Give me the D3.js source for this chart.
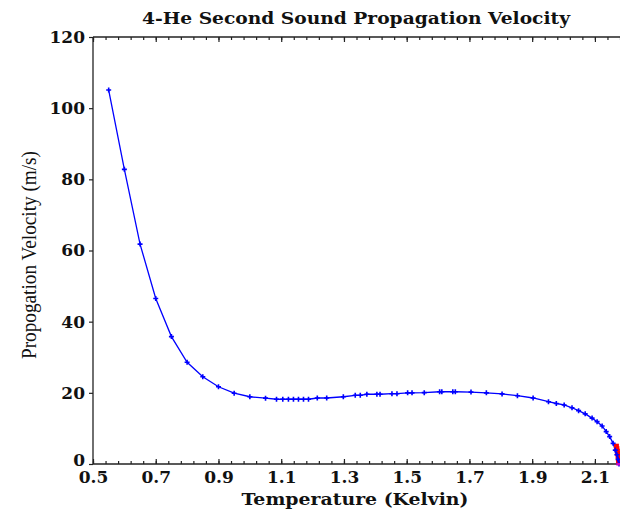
<!DOCTYPE html>
<html>
<head>
<meta charset="utf-8">
<script src="https://cdn.jsdelivr.net/npm/d3@7"></script>
<style>
  body { margin: 0; background: #fff; }
  svg { display: block; }
</style>
</head>
<body>
<svg id="chart" width="620" height="510"></svg>
<script>
// second sound velocity readings (blue series)
const temps = [0.55, 0.60, 0.65, 0.70, 0.75, 0.80, 0.85, 0.90, 0.95, 1.00, 1.05,
  1.085, 1.105, 1.123, 1.139, 1.155, 1.171, 1.187, 1.215, 1.245, 1.298, 1.336, 1.352,
  1.373, 1.405, 1.415, 1.453, 1.469, 1.503, 1.517, 1.556, 1.605, 1.612, 1.647, 1.655,
  1.705, 1.754, 1.804, 1.853, 1.903, 1.952, 1.977, 2.002, 2.027, 2.048, 2.069, 2.091,
  2.107, 2.123, 2.136, 2.147, 2.158, 2.165, 2.170, 2.174, 2.1768];
const velocity = [105.1, 82.8, 61.8, 46.5, 35.8, 28.6, 24.5, 21.7, 19.9, 18.9, 18.5,
  18.2, 18.2, 18.2, 18.2, 18.2, 18.2, 18.2, 18.55, 18.55, 18.9, 19.3, 19.3,
  19.6, 19.6, 19.6, 19.75, 19.75, 20.0, 20.0, 20.05, 20.3, 20.3, 20.3, 20.3,
  20.2, 20.0, 19.7, 19.2, 18.55, 17.5, 17.0, 16.6, 15.8, 15.0, 14.1, 12.9,
  11.9, 10.7, 9.1, 7.7, 5.8, 3.9, 2.6, 1.3, 0];

// points right at the lambda point (red series)
const lambdaTemps = [2.1685, 2.170, 2.1715, 2.173, 2.174, 2.175, 2.1757, 2.1763];
const lambdaVelocity = [5.0, 4.3, 3.6, 2.9, 2.2, 1.5, 0.9, 0.4];

// final point (magenta)
const endTemps = [2.1765];
const endVelocity = [0];

const xTicks = [0.5, 0.7, 0.9, 1.1, 1.3, 1.5, 1.7, 1.9, 2.1];
const yTicks = [0, 20, 40, 60, 80, 100, 120];

const margin = {top: 37, right: 1, bottom: 46, left: 93};
const width = 620, height = 510;

const svg = d3.select('#chart');

const x = d3.scaleLinear()
  .domain([0.5, 2.1768])
  .range([margin.left, width - margin.right]);

const y = d3.scaleLinear()
  .domain([0, 120])
  .range([height - margin.bottom, margin.top]);

const minorX = d3.range(0.5, 2.19, 0.04);
const tickFont = 'DejaVu Serif, serif';

// bottom axis, minor ticks point into the plot
svg.append('g')
  .attr('transform', `translate(0,${y(0)})`)
  .call(d3.axisBottom(x).tickValues(minorX).tickSize(-3).tickFormat(''))
  .call(g => g.select('.domain').remove());

svg.append('g')
  .attr('transform', `translate(0,${y(0)})`)
  .call(d3.axisBottom(x).tickValues(xTicks).tickSize(-5).tickPadding(7).tickFormat(d3.format('.1f')))
  .call(g => g.select('.domain').remove())
  .call(g => g.selectAll('text')
    .attr('font-family', tickFont)
    .attr('font-weight', 'bold')
    .attr('font-size', 17)
    .attr('fill', '#111'));

// top axis, ticks only
svg.append('g')
  .attr('transform', `translate(0,${y(120)})`)
  .call(d3.axisTop(x).tickValues(minorX).tickSize(-3).tickFormat(''))
  .call(g => g.select('.domain').remove());

svg.append('g')
  .attr('transform', `translate(0,${y(120)})`)
  .call(d3.axisTop(x).tickValues(xTicks).tickSize(-5).tickFormat(''))
  .call(g => g.select('.domain').remove());

// left axis
svg.append('g')
  .attr('transform', `translate(${x(0.5)},0)`)
  .call(d3.axisLeft(y).tickValues(yTicks).tickSize(4).tickPadding(4))
  .call(g => g.select('.domain').remove())
  .call(g => g.selectAll('text')
    .attr('font-family', tickFont)
    .attr('font-weight', 'bold')
    .attr('font-size', 17)
    .attr('fill', '#111')
    .attr('dy', d => d === 0 ? '0.1em' : '0.32em'));

svg.selectAll('.tick line').attr('stroke', '#222').attr('stroke-width', 1.2);

// frame lines (no right side)
const frame = svg.append('g').attr('stroke', '#222').attr('stroke-width', 1.3);
frame.append('line')
  .attr('x1', x(0.5)).attr('x2', x(0.5))
  .attr('y1', y(120)).attr('y2', y(0));
frame.append('line')
  .attr('x1', x(0.5)).attr('x2', width)
  .attr('y1', y(0)).attr('y2', y(0));
frame.append('line')
  .attr('x1', x(0.5)).attr('x2', width)
  .attr('y1', y(120)).attr('y2', y(120));

// velocity curve
const points = temps.map((t, i) => ({t: t, v: velocity[i]}));
const line = d3.line().x(d => x(d.t)).y(d => y(d.v));

svg.append('path')
  .datum(points)
  .attr('fill', 'none')
  .attr('stroke', '#0000ff')
  .attr('stroke-width', 1.3)
  .attr('d', line);

// lambda point markers in red
const lambdaPoints = lambdaTemps.map((t, i) => ({t: t, v: lambdaVelocity[i]}));
svg.append('g')
  .selectAll('rect')
  .data(lambdaPoints)
  .join('rect')
  .attr('x', d => x(d.t) - 2.5)
  .attr('y', d => y(d.v) - 2.5)
  .attr('width', 5)
  .attr('height', 5)
  .attr('fill', '#ff0000');

// blue cross markers on the measured points
svg.append('g')
  .selectAll('path')
  .data(points)
  .join('path')
  .attr('d', d => {
    const cx = x(d.t), cy = y(d.v);
    return `M${cx - 2.5},${cy}H${cx + 2.5}M${cx},${cy - 2.5}V${cy + 2.5}`;
  })
  .attr('stroke', '#0000ff')
  .attr('stroke-width', 1.6);

// the blue line runs down over the red markers
svg.append('path')
  .datum(points.slice(-4))
  .attr('fill', 'none')
  .attr('stroke', '#0000ff')
  .attr('stroke-width', 2)
  .attr('d', line);

const endPoints = endTemps.map((t, i) => ({t: t, v: endVelocity[i]}));
svg.append('g')
  .selectAll('rect')
  .data(endPoints)
  .join('rect')
  .attr('x', d => x(d.t) - 2.5)
  .attr('y', d => y(d.v) - 1)
  .attr('width', 5)
  .attr('height', 2.5)
  .attr('fill', '#cc00cc');

// title and axis labels
svg.append('text')
  .attr('x', 356)
  .attr('y', 24)
  .attr('text-anchor', 'middle')
  .attr('font-family', tickFont)
  .attr('font-weight', 'bold')
  .attr('font-size', 16)
  .attr('fill', '#111')
  .attr('textLength', 428)
  .attr('lengthAdjust', 'spacingAndGlyphs')
  .text('4-He Second Sound Propagation Velocity');

svg.append('text')
  .attr('x', 355)
  .attr('y', 505)
  .attr('text-anchor', 'middle')
  .attr('font-family', tickFont)
  .attr('font-weight', 'bold')
  .attr('font-size', 17)
  .attr('fill', '#111')
  .attr('textLength', 227)
  .attr('lengthAdjust', 'spacingAndGlyphs')
  .text('Temperature (Kelvin)');

svg.append('text')
  .attr('transform', 'translate(36,255) rotate(-90)')
  .attr('text-anchor', 'middle')
  .attr('font-family', 'Liberation Serif, serif')
  .attr('font-size', 20)
  .attr('fill', '#111')
  .attr('textLength', 208)
  .attr('lengthAdjust', 'spacingAndGlyphs')
  .text('Propogation Velocity (m/s)');
</script>
</body>
</html>
